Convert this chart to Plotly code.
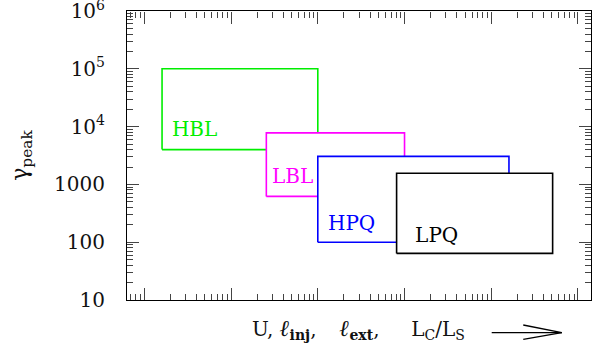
import plotly.graph_objects as go

# Data
classes = ["HBL", "LBL", "HPQ", "LPQ"]
colors = ["#00ee00", "#ff00ff", "#0000ff", "#000000"]
x_low = [1.6, 25.5, 100, 810]
x_high = [100, 1000, 16000, 51000]
gamma_low = [4000, 620, 100, 64]
gamma_high = [100000, 7800, 3050, 1560]
label_x = [2.08, 29.6, 131, 1324]
label_y = [8300, 1300, 200, 124]

y_tickvals = [10, 100, 1000, 1e4, 1e5, 1e6]
y_ticktext = ["10", "100", "1000", "10<sup>4</sup>", "10<sup>5</sup>", "10<sup>6</sup>"]

FONT = "DejaVu Serif"
NB = "\u00a0"
THIN = "\u2009"
X_RANGE = [-0.2, 5.15]
Y_RANGE = [0.9995, 6.0005]

fig = go.Figure()
for name, c, x0, x1, y0, y1, lx, ly in zip(classes, colors, x_low, x_high,
                                           gamma_low, gamma_high, label_x, label_y):
    fig.add_trace(go.Scatter(
        x=[x0, x1, x1, x0, x0], y=[y0, y0, y1, y1, y0],
        mode="lines", fill="toself", fillcolor="white",
        line=dict(color=c, width=1.6), showlegend=False, hoverinfo="skip"))
    fig.add_trace(go.Scatter(
        x=[lx], y=[ly], mode="text", text=[name], textposition="middle right",
        textfont=dict(family=FONT, size=20, color=c), showlegend=False,
        hoverinfo="skip"))

# invisible traces so that the mirrored (top / right) tick axes are drawn
for xa, ya in (("x3", "y2"), ("x4", "y3")):
    fig.add_trace(go.Scatter(x=[x_low[0]], y=[gamma_low[0]], xaxis=xa, yaxis=ya,
                             mode="markers", marker=dict(opacity=0), showlegend=False,
                             hoverinfo="skip"))

tick_style = dict(ticks="inside", tickcolor="#444", tickwidth=1, ticklen=12)
minor_style = dict(ticks="inside", ticklen=6, tickcolor="#444", tickwidth=1,
                   dtick="D1", showgrid=False)
axis_common = dict(type="log", showgrid=False, zeroline=False, automargin=False,
                   showline=True, linecolor="black", linewidth=1, **tick_style)


def mirror_axis(side, overlay, rng, ticklen, dtick):
    return dict(type="log", showgrid=False, zeroline=False, automargin=False,
                overlaying=overlay, side=side, anchor="free", position=1,
                range=rng,
                ticks="inside", ticklen=ticklen, tickcolor="#444", tickwidth=1,
                dtick=dtick, showticklabels=False, showline=False)


fig.update_layout(
    xaxis=dict(**axis_common, mirror=True, range=X_RANGE, dtick=1,
               showticklabels=False, minor=minor_style),
    yaxis=dict(**axis_common, mirror=True, range=Y_RANGE, tickvals=y_tickvals,
               ticktext=y_ticktext, ticklabeloverflow="allow",
               tickfont=dict(family=FONT, size=20, color="#111"),
               ticklabelstandoff=17, minor=minor_style,
               title=dict(text="γ<sub>peak</sub>",
                          font=dict(family=FONT, size=22, color="#111"),
                          standoff=20)),
    xaxis3=mirror_axis("top", "x", X_RANGE, 12, 1),
    yaxis2=mirror_axis("right", "y", Y_RANGE, 12, 1),
    xaxis4=mirror_axis("top", "x", X_RANGE, 6, "D1"),
    yaxis3=mirror_axis("right", "y", Y_RANGE, 6, "D1"),
)

ell = "<b><i><span style='font-size:23px'>ℓ</span></i></b>"
xtitle = ("U," + NB + ell + "<sub><b>inj</b></sub>," + NB * 3 + THIN +
          ell + "<sub><b>ext</b></sub>," + NB * 5 +
          "L<sub>C</sub>/L<sub>S</sub>")
fig.add_annotation(
    xref="paper", yref="paper", x=0.266, y=-0.1, xanchor="left", yanchor="middle",
    showarrow=False, text=xtitle,
    font=dict(family=FONT, size=20, color="#111"))

arrow = dict(type="line", xref="paper", yref="paper", line=dict(color="black", width=1.3))
fig.add_shape(**arrow, x0=0.786, y0=-0.113, x1=0.937, y1=-0.113)
fig.add_shape(**arrow, x0=0.854, y0=-0.0865, x1=0.937, y1=-0.113)
fig.add_shape(**arrow, x0=0.854, y0=-0.136, x1=0.937, y1=-0.113)

fig.update_layout(
    width=600, height=347,
    margin=dict(l=127, r=9, t=11, b=47),
    paper_bgcolor="white", plot_bgcolor="white",
    font=dict(family=FONT),
)
fig.write_html("out.html")
